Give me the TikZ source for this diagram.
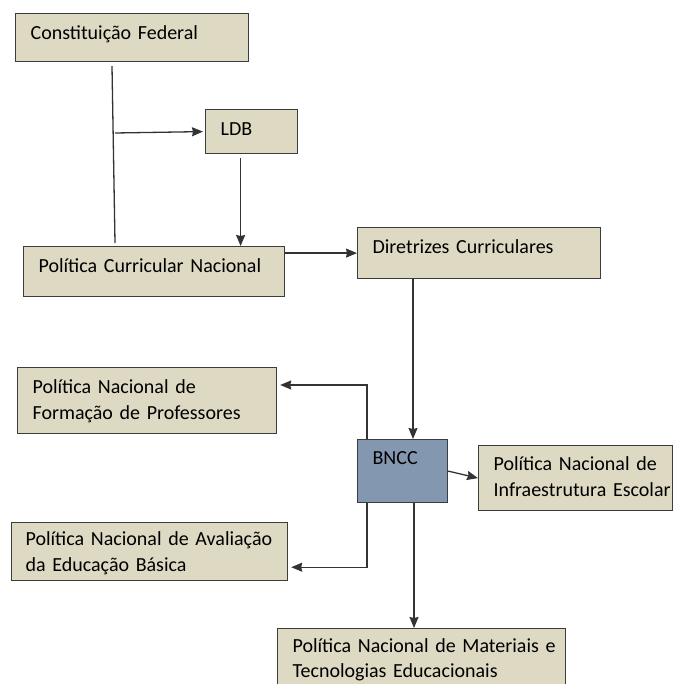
\documentclass[tikz,border=0pt]{standalone}
\usepackage{fontspec}
\setmainfont{Carlito}
\usepackage{tikz}
\usetikzlibrary{arrows.meta}

\definecolor{boxtan}{HTML}{DDD9C3}
\definecolor{boxblue}{HTML}{8497B0}
\definecolor{boxline}{HTML}{3C3C3C}

\begin{document}
\begin{tikzpicture}[
    x=1pt, y=-1pt,
    % Boxes: text sits near the top left corner
    every node/.style={
        font=\fontsize{20}{26}\selectfont,
        inner sep=0pt,
        align=left,
        anchor=north west,
        execute at begin node={\leftskip=15pt\rightskip=-60pt plus 1fil}
    },
    policy/.style={
        draw=boxline,
        line width=1.2pt,
        fill=boxtan
    },
    core/.style={
        draw=boxline,
        line width=1.2pt,
        fill=boxblue
    },
    % Connectors
    link/.style={
        line width=1.3pt,
        draw=black!80
    },
    conn/.style={
        link,
        -{Stealth[length=11pt,width=9pt,inset=1pt]}
    }
]
    \useasboundingbox (0,0) rectangle (678,684);

    % Upper part
    \node[policy, text width=233pt, text height=26pt, text depth=22pt] (cf) at (15,13) {Constituição Federal};
    \node[policy, text width=92pt, text height=26pt, text depth=18pt] (ldb) at (205,109) {LDB};
    \node[policy, text width=261pt, text height=26pt, text depth=24pt] (pcn) at (23,246) {Política Curricular Nacional};
    \node[policy, text width=243pt, text height=26pt, text depth=25pt] (dc) at (357,227) {Diretrizes Curriculares};

    % Central node
    \node[core, text width=90pt, text height=25pt, text depth=38pt] (bncc) at (357,439) {BNCC};

    % Policies derived from the BNCC
    \node[policy, text width=259pt, text height=26pt, text depth=40pt] (form) at (17,367) {Política Nacional de\\Formação de Professores};
    \node[policy, text width=194pt, text height=25pt, text depth=40pt] (infra) at (478,445) {Política Nacional de\\Infraestrutura Escolar};
    \node[policy, text width=276pt, text height=23pt, text depth=35pt, execute at begin node={\leftskip=14pt\rightskip=-60pt plus 1fil}] (aval) at (11,522) {Política Nacional de Avaliação\\da Educação Básica};
    \node[policy, text width=288pt, text height=24pt, text depth=60pt, font=\fontsize{20}{25}\selectfont] (mat) at (277,628) {Política Nacional de Materiais e\\Tecnologias Educacionais};

    % Connect upper part
    \coordinate (branch) at (115,133);
    \draw[link] ([shift={(97,4)}]cf.south west) -- ([shift={(92,-3)}]pcn.north west);
    \draw[conn] (branch) -- ([xshift=-2pt]ldb.west);
    \draw[conn] ([shift={(-11,4)}]ldb.south) -- ([xshift=-11pt]ldb.south |- pcn.north);
    \draw[conn] (pcn.north east |- dc.west) -- (dc.west);
    \draw[conn] ([xshift=56pt]dc.south west) -- ([xshift=56pt]dc.south west |- bncc.north);

    % Connect the BNCC
    \draw[conn, shorten >=3pt] ([xshift=10pt]bncc.north west) |- ([yshift=-18pt]form.north east);
    \draw[conn, shorten >=3pt] ([xshift=10pt]bncc.south west) |- ([yshift=14pt]aval.south east);
    \draw[conn] (bncc.east) -- (infra.west);
    \draw[conn] ([xshift=57pt]bncc.south west) -- ([xshift=57pt]bncc.south west |- mat.north);
\end{tikzpicture}
\end{document}
